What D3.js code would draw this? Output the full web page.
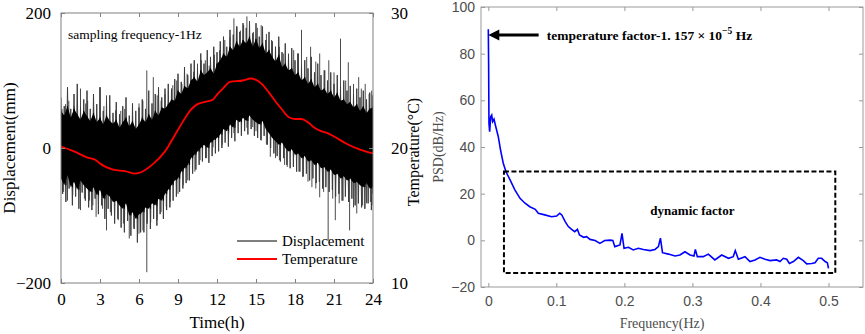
<!DOCTYPE html>
<html><head><meta charset="utf-8">
<script src="https://cdn.jsdelivr.net/npm/d3@7"></script>
<style>body{margin:0;background:#fff}svg{display:block}</style>
</head><body>
<svg id="c" width="865" height="334"></svg>
<script>
// ---------- Left chart data ----------
const timeTicks = [0,3,6,9,12,15,18,21,24];
const dispTicks = [-200,0,200];
const tempTicks = [10,20,30];
const dispStep = 0.25; // hours between envelope samples
// dense (solid black) part of the displacement record
const dispHigh = [55,48,62,45,58,50,42,55,47,
  40,52,38,45,35,48,40,36,
  42,30,38,45,32,40,28,35,
  45,38,50,42,55,48,60,58,
  65,72,70,85,80,92,88,100,
  105,98,115,108,112,118,110,125,
  130,140,135,150,145,158,150,160,
  155,165,150,162,148,155,140,145,
  135,128,138,120,125,115,118,108,
  112,100,105,95,102,90,95,85,
  88,80,85,75,82,70,72,65,
  68,60,65,55,62,52,58,60];
const dispLow = [-45,-55,-40,-58,-50,-62,-48,-55,-60,
  -65,-58,-70,-62,-75,-68,-72,-80,
  -78,-85,-90,-82,-100,-95,-105,-98,
  -95,-88,-90,-82,-85,-75,-78,-68,
  -62,-55,-48,-45,-35,-30,-25,-15,
  -10,-5,0,5,0,8,12,15,
  20,28,25,35,30,42,38,45,
  40,48,42,38,35,40,28,22,
  15,10,5,8,0,-5,-2,-10,
  -8,-15,-12,-20,-18,-25,-22,-30,
  -28,-35,-32,-40,-38,-45,-42,-48,
  -45,-52,-50,-55,-58,-52,-60,-58];
// fringe (gray outer oscillation) of the displacement record
const fringeHigh = [75,62,90,58,80,95,60,72,85,
  58,80,65,90,55,70,78,52,
  68,50,62,75,48,66,55,60,
  72,58,85,66,80,90,75,88,
  95,88,102,110,98,120,108,125,
  130,118,140,125,145,135,150,142,
  158,165,150,175,168,180,172,185,
  178,188,170,185,165,180,160,172,
  158,150,165,142,155,138,148,130,
  140,122,130,118,135,112,125,108,
  115,100,112,95,108,92,100,85,
  92,80,88,75,85,72,82,78];
const fringeLow = [-68,-80,-60,-85,-72,-90,-66,-78,-88,
  -92,-75,-98,-85,-105,-90,-100,-112,
  -105,-118,-125,-108,-130,-120,-140,-125,
  -125,-112,-120,-105,-115,-98,-105,-92,
  -88,-78,-72,-65,-60,-52,-48,-38,
  -32,-25,-20,-15,-22,-12,-8,-5,
  0,8,2,15,10,22,18,25,
  20,28,18,15,12,18,5,0,
  -8,-12,-20,-15,-25,-30,-28,-35,
  -35,-42,-38,-48,-45,-52,-50,-60,
  -58,-65,-62,-72,-68,-78,-72,-80,
  -75,-85,-82,-88,-90,-82,-92,-85];
const spikeTime = [0.08,0.6,1.5,2.05,3.0,3.5,4.2,4.9,6.0,6.6,7.1,7.7,8.6,9.3,10.2,10.8,11.4,12.2,13.0,13.3,13.8,14.3,14.8,15.4,15.8,16.5,17.1,17.9,18.5,19.2,19.9,20.6,21.5,22.1,22.9,23.4,23.9,
  0.2,0.5,1.5,2.2,2.7,3.5,4.4,5.25,6.0,6.3,6.6,7.4,8.1,9.0,9.75,10.7,11.7,12.9,13.8,14.75,15.4,16.1,16.8,17.4,17.9,18.6,19.3,19.9,20.55,21.1,21.7,22.2,22.75,23.5,23.95,
  0.35,1.0,1.9,2.5,3.3,4.6,5.5,6.3,7.4,8.0,8.9,9.7,10.5,11.1,11.8,12.6,13.55,14.05,15.1,16.2,16.8,17.5,18.2,18.9,19.6,20.3,21.0,21.9,22.5,23.1,23.7,
  0.9,1.8,2.45,3.2,3.8,4.8,5.6,6.9,7.7,8.4,9.4,10.3,11.2,12.4,13.3,14.3,15.0,15.8,16.5,17.2,18.3,19.0,19.6,20.2,20.9,21.4,22.5,23.2,23.8];
const spikeValue = [58,70,88,70,90,78,56,58,66,115,105,70,93,95,113,130,122,145,164,192,174,195,172,182,169,150,140,145,175,150,140,130,162,127,105,95,85,
  -65,-78,-92,-78,-102,-122,-107,-134,-127,-122,-184,-107,-87,-68,-48,-18,1,21,41,31,11,-13,-18,-28,-13,-43,-58,-73,-137,-107,-78,-122,-97,-82,-68,
  65,62,66,60,62,55,60,70,78,80,100,110,125,130,138,160,180,182,178,160,150,140,140,135,128,115,112,100,95,88,80,
  -70,-75,-85,-90,-95,-112,-118,-110,-95,-80,-55,-35,-15,5,22,30,25,5,-15,-25,-35,-50,-60,-65,-75,-82,-88,-85,-80];
const tempTime = [0,1,2,2.7,3,4,5,5.7,6,7,8,9,10,10.5,11,11.7,12,12.5,13,14,14.6,15,15.5,16,16.5,17,17.5,18,18.5,19,19.5,20,20.5,21,22,23,24];
const tempValue = [20.1,19.75,19.3,19.1,18.85,18.4,18.27,18.1,18.15,18.75,19.75,21.35,22.85,23.25,23.4,23.6,23.95,24.45,24.9,25.0,25.15,25.05,24.7,24.1,23.45,22.85,22.3,22.15,22.15,21.9,21.5,21.25,21.1,20.85,20.3,19.88,19.6];

// ---------- Right chart data ----------
const freqTicks = [0,0.1,0.2,0.3,0.4,0.5];
const psdTicks = [-20,0,20,40,60,80,100];
const psdFreq = [0,0.0005,0.001,0.002,0.0035,0.005,0.0064,0.0084,0.011,0.0147,0.018,0.022,0.026,0.032,0.039,0.0466,0.054,0.061,0.069,0.0735,0.083,0.093,0.1005,0.105,0.108,0.113,0.1176,0.1225,0.127,0.131,0.134,0.14,0.1445,0.1495,0.157,0.164,0.171,0.179,0.183,0.186,0.1935,0.1965,0.1995,0.206,0.213,0.2205,0.228,0.2377,0.245,0.25,0.253,0.256,0.2647,0.2744,0.2817,0.289,0.2965,0.3023,0.3043,0.3072,0.316,0.3234,0.333,0.343,0.353,0.36,0.363,0.3675,0.3773,0.3846,0.392,0.3993,0.4067,0.414,0.4238,0.4287,0.4336,0.4386,0.4425,0.4484,0.4557,0.463,0.468,0.4753,0.4802,0.485,0.49,0.495,0.4983,0.5];
const psdValue = [90.5,75,50,46.6,53,53.7,50.9,51.9,48.7,44.4,38.7,33,29.4,25.9,21.6,18,15.9,14.4,13.3,11.6,10.9,10.1,10.4,11.6,10.9,8,5.9,4.7,3.7,4.7,2.3,1.3,1.6,0.4,-0.1,-1.3,-0.1,0.1,-0.1,-2.7,-2,3,-3.4,-3,-4.1,-3.4,-3.9,-4.4,-3.9,-2.7,0.9,-5.3,-5.9,-6.7,-6.3,-4.9,-6.3,-6.7,-3.9,-7,-7,-5.9,-8.4,-6.3,-7.7,-7,-4.4,-8.1,-7,-9.1,-8.4,-7.3,-8.1,-8.7,-8.4,-9.1,-7.7,-8.1,-9.9,-9.1,-7.3,-8.7,-10.1,-9.9,-9.6,-7.7,-7.7,-9.1,-9.6,-12];
const dynBoxFreq = [0.023, 0.51];
const dynBoxPsd = [-14, 29.5];
const arrowFreq = [0.074, 0.0];
const arrowPsd = 88;

const svg = d3.select("#c");
const serif = "'Liberation Serif','Times New Roman',serif";
const sans = "'Liberation Sans',Arial,sans-serif";

// ================= LEFT CHART =================
const L = {l:61, r:373, t:13, b:283};
const x = d3.scaleLinear([0,24],[L.l,L.r]);
const y = d3.scaleLinear([-200,200],[L.b,L.t]);
const yT = d3.scaleLinear([10,30],[L.b,L.t]);
const gL = svg.append("g");
svg.append("defs").append("clipPath").attr("id","clipL").append("rect")
  .attr("x",L.l).attr("y",L.t).attr("width",L.r-L.l).attr("height",L.b-L.t);

const plot = gL.append("g").attr("clip-path","url(#clipL)");
const zig = (hiArr, loArr) => {
  const pts = [];
  hiArr.forEach((h,i)=>{
    const t = i*dispStep;
    pts.push([t, h]);
    pts.push([Math.min(24, t+dispStep/2), loArr[i]]);
  });
  return pts;
};
const lineGen = d3.line().x(d=>x(d[0])).y(d=>y(d[1]));
// spikes (thin gray lines)
spikeTime.forEach((t,i)=>{
  const idx = Math.max(0, Math.min(dispHigh.length-1, Math.round(t/dispStep)));
  const base = (dispHigh[idx]+dispLow[idx])/2;
  plot.append("line").attr("x1",x(t)).attr("x2",x(t)).attr("y1",y(base)).attr("y2",y(spikeValue[i]))
    .attr("stroke","#4a4a4a").attr("stroke-width",1);
});
// fringe zigzag
plot.append("path").datum(zig(fringeHigh, fringeLow)).attr("d", lineGen)
  .attr("fill","none").attr("stroke","#3c3c3c").attr("stroke-width",1);
// dense core band
plot.append("path").datum(dispHigh.map((h,i)=>[i*dispStep,h,dispLow[i]]))
  .attr("d", d3.area().x(d=>x(d[0])).y0(d=>y(d[2])).y1(d=>y(d[1])))
  .attr("fill","#000");
plot.append("path").datum(zig(dispHigh, dispLow)).attr("d", lineGen)
  .attr("fill","none").attr("stroke","#000").attr("stroke-width",1.1);
plot.append("path").datum(tempTime.map((t,i)=>[t,tempValue[i]]))
  .attr("d", d3.line().curve(d3.curveMonotoneX).x(d=>x(d[0])).y(d=>yT(d[1])))
  .attr("fill","none").attr("stroke","#ff0000").attr("stroke-width",1.8);

// box + axes
const axCol = "#808080";
gL.append("rect").attr("x",L.l).attr("y",L.t).attr("width",L.r-L.l).attr("height",L.b-L.t)
  .attr("fill","none").attr("stroke",axCol).attr("stroke-width",1);
function styleAxis(g, col, font, size){
  g.select(".domain").remove();
  g.selectAll(".tick line").attr("stroke",col);
  g.selectAll(".tick text").attr("fill","#000").attr("font-family",font).attr("font-size",size);
}
const axB = gL.append("g").attr("transform",`translate(0,${L.b})`)
  .call(d3.axisBottom(x).tickValues(timeTicks).tickSize(-4).tickPadding(10).tickFormat(d3.format("d")));
styleAxis(axB, axCol, serif, 17);
const axTop = gL.append("g").attr("transform",`translate(0,${L.t})`)
  .call(d3.axisTop(x).tickValues(timeTicks).tickSize(-4).tickFormat(""));
styleAxis(axTop, axCol, serif, 17);
const axLft = gL.append("g").attr("transform",`translate(${L.l},0)`)
  .call(d3.axisLeft(y).tickValues(dispTicks).tickSize(-4).tickPadding(10).tickFormat(d3.format("d")));
styleAxis(axLft, axCol, serif, 17);
const axRt = gL.append("g").attr("transform",`translate(${L.r},0)`)
  .call(d3.axisRight(yT).tickValues(tempTicks).tickSize(-4).tickPadding(18).tickFormat(d3.format("d")));
styleAxis(axRt, axCol, serif, 17);

gL.append("text").attr("x",(L.l+L.r)/2).attr("y",328).attr("text-anchor","middle")
  .attr("font-family",serif).attr("font-size",17).text("Time(h)");
gL.append("text").attr("transform",`translate(15,${(L.t+L.b)/2}) rotate(-90)`).attr("text-anchor","middle")
  .attr("font-family",serif).attr("font-size",17).text("Displacement(mm)");
gL.append("text").attr("transform",`translate(419,152) rotate(-90)`).attr("text-anchor","middle")
  .attr("font-family",serif).attr("font-size",16).text("Temperature(°C)");
gL.append("text").attr("x",68).attr("y",39).attr("font-family",serif).attr("font-size",13.5)
  .text("sampling frequency-1Hz");
// legend
const leg = [["Displacement","#000",1],["Temperature","#ff0000",1.8]];
leg.forEach((d,i)=>{
  const ly = 241 + i*18;
  gL.append("line").attr("x1",237).attr("x2",277).attr("y1",ly).attr("y2",ly)
    .attr("stroke",d[1]).attr("stroke-width",d[2]);
  gL.append("text").attr("x",282).attr("y",ly+5).attr("font-family",serif).attr("font-size",15).text(d[0]);
});

// ================= RIGHT CHART =================
const R = {l:481, r:863, t:7, b:287};
const xr = d3.scaleLinear([0,0.5],[488.3,828.5]);
const yr = d3.scaleLinear([-20,100],[R.b,R.t]);
const gR = svg.append("g");
gR.append("rect").attr("x",R.l).attr("y",R.t).attr("width",R.r-R.l).attr("height",R.b-R.t)
  .attr("fill","#fff").attr("stroke","#9a9a9a").attr("stroke-width",1);
const rCol = "#9a9a9a";
function styleR(g){
  g.select(".domain").remove();
  g.selectAll(".tick line").attr("stroke",rCol);
  g.selectAll(".tick text").attr("fill","#4d4d4d").attr("font-family",sans).attr("font-size",14);
}
styleR(gR.append("g").attr("transform",`translate(0,${R.b})`)
  .call(d3.axisBottom(xr).tickValues(freqTicks).tickSize(-4).tickPadding(9).tickFormat(d=>d===0?"0":d3.format(".1f")(d))));
styleR(gR.append("g").attr("transform",`translate(0,${R.t})`)
  .call(d3.axisTop(xr).tickValues(freqTicks).tickSize(-4).tickFormat("")));
styleR(gR.append("g").attr("transform",`translate(${R.l},0)`)
  .call(d3.axisLeft(yr).tickValues(psdTicks).tickSize(-4).tickPadding(6).tickFormat(d3.format("d"))));
styleR(gR.append("g").attr("transform",`translate(${R.r},0)`)
  .call(d3.axisRight(yr).tickValues(psdTicks).tickSize(-4).tickFormat("")));

// PSD line
gR.append("path").datum(psdFreq.map((f,i)=>[f,psdValue[i]]))
  .attr("d", d3.line().x(d=>xr(d[0])).y(d=>yr(d[1])))
  .attr("fill","none").attr("stroke","#0000ff").attr("stroke-width",1.6);

// dynamic box
gR.append("rect").attr("x",xr(dynBoxFreq[0])).attr("y",yr(dynBoxPsd[1]))
  .attr("width",xr(dynBoxFreq[1])-xr(dynBoxFreq[0])).attr("height",yr(dynBoxPsd[0])-yr(dynBoxPsd[1]))
  .attr("fill","none").attr("stroke","#000").attr("stroke-width",2).attr("stroke-dasharray","5,2.5");
gR.append("text").attr("x",xr(0.3)).attr("y",yr(11)).attr("text-anchor","middle")
  .attr("font-family",serif).attr("font-weight","bold").attr("font-size",13).text("dynamic factor");

// arrow
const ax0 = xr(arrowFreq[0]), ax1 = xr(arrowFreq[1]), ay = yr(arrowPsd);
gR.append("line").attr("x1",ax0).attr("x2",ax1+9).attr("y1",ay).attr("y2",ay)
  .attr("stroke","#000").attr("stroke-width",3);
gR.append("path").attr("d",`M${ax1},${ay} L${ax1+11},${ay-5.5} L${ax1+11},${ay+5.5} Z`).attr("fill","#000");
const ann = gR.append("text").attr("x",xr(0.086)).attr("y",yr(arrowPsd)+4.5)
  .attr("font-family",serif).attr("font-weight","bold").attr("font-size",13.5);
ann.append("tspan").text("temperature factor-1. 157 × 10");
ann.append("tspan").attr("dy",-6).attr("font-size",9.5).text("−5");
ann.append("tspan").attr("dy",6).text(" Hz");

gR.append("text").attr("x",(R.l+R.r)/2-10).attr("y",328).attr("text-anchor","middle")
  .attr("font-family",serif).attr("font-size",14).attr("fill","#4d4d4d").text("Frequency(Hz)");
gR.append("text").attr("transform",`translate(443,${(R.t+R.b)/2}) rotate(-90)`).attr("text-anchor","middle")
  .attr("font-family",serif).attr("font-size",14).attr("fill","#4d4d4d").text("PSD(dB/Hz)");
</script>
</body></html>
